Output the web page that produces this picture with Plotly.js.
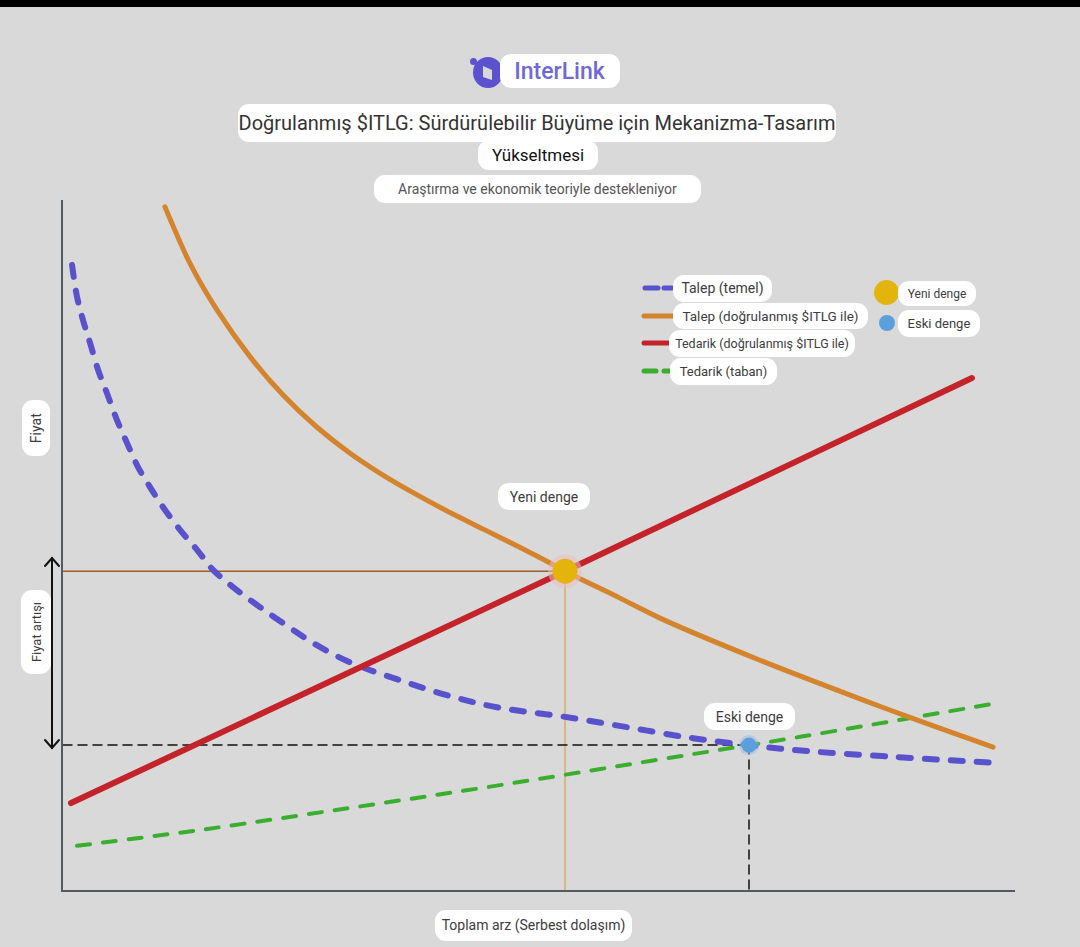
<!DOCTYPE html>
<html><head><meta charset="utf-8">
<script src="https://cdn.plot.ly/plotly-3.0.1.min.js"></script>
<style>html,body{margin:0;padding:0;background:#d9d9d9;}#chart{width:1080px;height:947px;}</style>
</head><body><div id="chart"></div>
<script>
// ---------- DATA ----------
const demandBaseX = [0.95,1.47,2.10,2.84,3.68,4.62,5.67,6.72,7.88,9.14,10.5,12.29,14.08,15.76,17.86,20.69,24.16,26.26,30.15,35.4,40.65,45.9,52.21,59.24,66.18,72.06,76.68,87.18,98.42];
const demandBaseY = [90.6,86.0,82.6,79.3,75.4,72.0,68.1,64.8,61.3,58.4,55.5,52.2,49.3,46.4,43.9,41.0,37.7,35.8,33.0,30.4,28.1,26.4,25.2,23.6,22.0,21.0,20.3,19.3,18.4];
const demandNewX = [10.71,13.34,16.15,19.64,23.14,26.65,30.15,33.65,37.15,40.65,44.15,47.66,51.16,52.73,58.51,62.71,73.21,83.72,90.76,97.69];
const demandNewY = [99.0,90.8,84.1,77.3,71.7,67.1,63.3,60.1,57.3,54.7,52.3,49.9,47.4,46.2,42.3,39.4,33.3,27.7,24.1,20.7];
const supplyNewX = [0.84,52.73,95.48];
const supplyNewY = [12.6,46.2,74.2];
const supplyBaseX = [1.47,14.39,30.15,45.9,61.66,77.42,98.11];
const supplyBaseY = [6.4,8.7,11.9,15.2,18.7,22.2,27.1];
const newEqX = 52.73, newEqY = 46.2;
const oldEqX = 72.06, oldEqY = 21.0;

const seriesNames = ['Talep (temel)','Talep (doğrulanmış $ITLG ile)','Tedarik (doğrulanmış $ITLG ile)','Tedarik (taban)'];
const pointNames = ['Yeni denge','Eski denge'];
const titleLine1 = 'Doğrulanmış $ITLG: Sürdürülebilir Büyüme için Mekanizma-Tasarım';
const titleLine2 = 'Yükseltmesi';
const subtitle = 'Araştırma ve ekonomik teoriyle destekleniyor';
const brandName = 'InterLink';
const xLabel = 'Toplam arz (Serbest dolaşım)';
const yLabel = 'Fiyat';
const riseLabel = 'Fiyat artışı';

// ---------- COLORS ----------
const C = {blue:'#5a52cc', orange:'#d4842c', red:'#c4232a', green:'#3aae2e', gold:'#e3b40c', lblue:'#5b9fdc', text:'#3d3d3d'};

// pixel -> paper helpers (plot area 63..1015 x 200..890)
const X = px => (px-63)/952;
const Y = py => (890-py)/690;

const traces = [
  {x:[0,newEqX], y:[newEqY,newEqY], mode:'lines', line:{color:'#9c5c28', width:1.5}, hoverinfo:'skip'},
  {x:[newEqX,newEqX], y:[newEqY,0], mode:'lines', line:{color:'#d6b981', width:2}, hoverinfo:'skip'},
  {x:[0,oldEqX], y:[oldEqY,oldEqY], mode:'lines', line:{color:'#111', width:1.5, dash:'9px,6px'}, hoverinfo:'skip'},
  {x:[oldEqX,oldEqX], y:[oldEqY,0], mode:'lines', line:{color:'#111', width:1.5, dash:'9px,6px'}, hoverinfo:'skip'},
  {x:supplyBaseX, y:supplyBaseY, name:seriesNames[3], mode:'lines', line:{color:C.green, width:4, dash:'13px,13px', shape:'spline'}},
  {x:demandBaseX, y:demandBaseY, name:seriesNames[0], mode:'lines', line:{color:C.blue, width:6, dash:'12px,14px', shape:'spline'}},
  {x:supplyNewX, y:supplyNewY, name:seriesNames[2], mode:'lines', line:{color:C.red, width:6}},
  {x:demandNewX, y:demandNewY, name:seriesNames[1], mode:'lines', line:{color:C.orange, width:5, shape:'spline', smoothing:0.8}},
  {x:[newEqX], y:[newEqY], mode:'markers', marker:{size:34, color:'rgba(235,190,195,0.55)'}, hoverinfo:'skip'},
  {x:[newEqX], y:[newEqY], name:pointNames[0], mode:'markers', marker:{size:25, color:C.gold}},
  {x:[oldEqX], y:[oldEqY], mode:'markers', marker:{size:20, color:'rgba(150,190,230,0.5)'}, hoverinfo:'skip'},
  {x:[oldEqX], y:[oldEqY], name:pointNames[1], mode:'markers', marker:{size:15, color:C.lblue}}
];

function box(text, cx, cy, w, h, size, color, extra) {
  return Object.assign({text:text, xref:'paper', yref:'paper', x:X(cx), y:Y(cy), xanchor:'center', yanchor:'middle',
    showarrow:false, bgcolor:'#ffffff', width:w, height:h, borderpad:0, borderwidth:0,
    font:{family:'Roboto, Inter, sans-serif', size:size, color:color||C.text}}, extra||{});
}

const annotations = [
  box(brandName, 560, 71, 120, 34, 23, '#7068d8', {font:{family:'Roboto, sans-serif', size:23, color:'#7068d8', weight:500}}),
  box(titleLine1, 537, 123, 598, 38, 20, '#333'),
  box(titleLine2, 538, 155, 120, 30, 17, '#111'),
  box(subtitle, 537, 189, 327, 28, 14, '#555'),
  box(seriesNames[0], 722, 288, 99, 27, 14),
  box(seriesNames[1], 770, 316, 195, 26, 13.5),
  box(seriesNames[2], 762, 343, 186, 27, 12.5),
  box(seriesNames[3], 723, 371, 107, 27, 13),
  box(pointNames[0], 937, 293, 78, 25, 12),
  box(pointNames[1], 939, 323, 82, 27, 13),
  box(yLabel, 36, 428, 56, 28, 14, C.text, {textangle:-90}),
  box(riseLabel, 36, 632, 84, 30, 13, C.text, {textangle:-90}),
  box(xLabel, 533, 925, 197, 31, 14),
  Object.assign(box(pointNames[0], 0, 0, 92, 27, 14), {xref:'x', yref:'y', x:newEqX, y:newEqY, yshift:75, xshift:-21}),
  Object.assign(box(pointNames[1], 0, 0, 91, 27, 14), {xref:'x', yref:'y', x:oldEqX, y:oldEqY, yshift:29})
];

const shapes = [
  // top black bar
  {type:'rect', xref:'paper', yref:'paper', x0:X(0), x1:X(1080), y0:Y(0), y1:Y(7), fillcolor:'#000', line:{width:0}},
  // logo icon
  {type:'circle', xref:'paper', yref:'paper', x0:X(473), x1:X(503), y0:Y(57), y1:Y(88), fillcolor:'#5c52d0', line:{width:0}},
  {type:'path', xref:'paper', yref:'paper', path:`M ${X(483)} ${Y(66)} L ${X(492)} ${Y(70)} L ${X(492)} ${Y(80)} L ${X(483)} ${Y(77)} Z`, fillcolor:'#d9d9d9', line:{width:0}},
  {type:'circle', xref:'paper', yref:'paper', x0:X(470), x1:X(477), y0:Y(58), y1:Y(65), fillcolor:'#5c52d0', line:{width:0}},
  // double arrow
  {type:'line', xref:'paper', yref:'paper', x0:X(52), x1:X(52), y0:Y(558), y1:Y(748), line:{color:'#111', width:2}},
  {type:'path', xref:'paper', yref:'paper', path:`M ${X(45)} ${Y(566)} L ${X(52)} ${Y(558)} L ${X(59)} ${Y(566)}`, line:{color:'#111', width:2}},
  {type:'path', xref:'paper', yref:'paper', path:`M ${X(45)} ${Y(740)} L ${X(52)} ${Y(748)} L ${X(59)} ${Y(740)}`, line:{color:'#111', width:2}},
  // legend samples
  {type:'line', xref:'paper', yref:'paper', x0:X(645), x1:X(672), y0:Y(288), y1:Y(288), line:{color:C.blue, width:5, dash:'13px,6px'}},
  {type:'line', xref:'paper', yref:'paper', x0:X(644), x1:X(674), y0:Y(316), y1:Y(316), line:{color:C.orange, width:5}},
  {type:'line', xref:'paper', yref:'paper', x0:X(644), x1:X(674), y0:Y(343), y1:Y(343), line:{color:C.red, width:5}},
  {type:'line', xref:'paper', yref:'paper', x0:X(644), x1:X(672), y0:Y(371), y1:Y(371), line:{color:C.green, width:5, dash:'12px,8px'}},
  {type:'circle', xref:'paper', yref:'paper', x0:X(874), x1:X(899), y0:Y(280), y1:Y(305), fillcolor:C.gold, line:{width:0}},
  {type:'circle', xref:'paper', yref:'paper', x0:X(879), x1:X(895), y0:Y(315), y1:Y(331), fillcolor:C.lblue, line:{width:0}}
];

const layout = {
  width:1080, height:947,
  margin:{l:63, r:65, t:200, b:57, pad:0},
  paper_bgcolor:'#d9d9d9', plot_bgcolor:'#d9d9d9',
  showlegend:false,
  xaxis:{range:[0,100], showline:true, linecolor:'#555a60', linewidth:2, showgrid:false, zeroline:false, showticklabels:false, ticks:'', fixedrange:true},
  yaxis:{range:[0,100], showline:true, linecolor:'#555a60', linewidth:2, showgrid:false, zeroline:false, showticklabels:false, ticks:'', fixedrange:true},
  annotations:annotations, shapes:shapes
};

Plotly.newPlot('chart', traces, layout, {displayModeBar:false, staticPlot:true}).then(gd => {
  gd.querySelectorAll('.annotation rect.bg').forEach(r => { r.setAttribute('rx', 11); r.setAttribute('ry', 11); });
  gd.querySelectorAll('.scatterlayer path.js-line').forEach(p => { p.style.strokeLinecap = 'round'; });
  gd.querySelectorAll('.shapelayer path').forEach(p => { p.style.strokeLinecap = 'round'; });
});
</script>
</body></html>
